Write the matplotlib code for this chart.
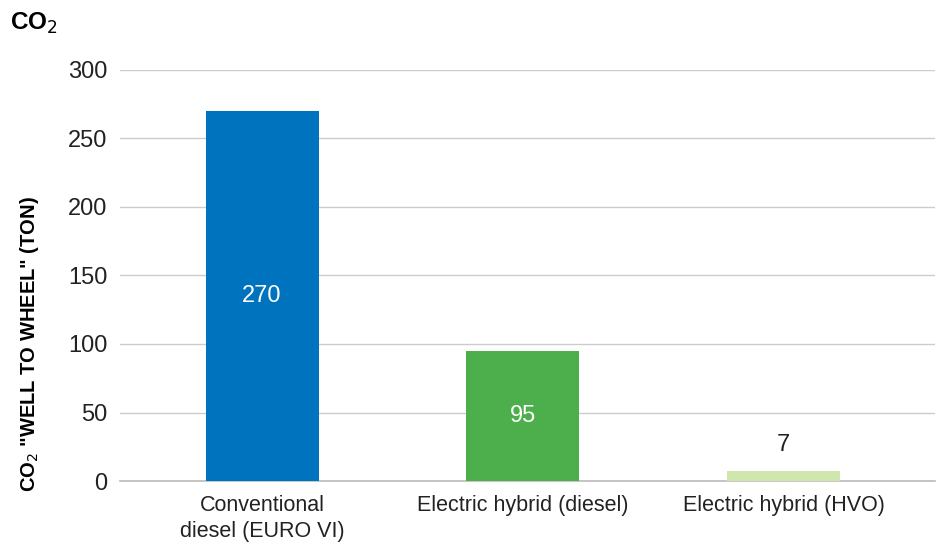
import matplotlib.pyplot as plt

plt.rcParams['font.family'] = ['Liberation Sans', 'DejaVu Sans']

categories = ['Conventional\ndiesel (EURO VI)', 'Electric hybrid (diesel)', 'Electric hybrid (HVO)']
values = [270, 95, 7]
colors = ['#0073bf', '#4caf4c', '#cfe6ad']
label_colors = ['white', 'white', '#222222']

fig = plt.figure(figsize=(9.37, 5.46), dpi=100)
ax = fig.add_axes([0.128, 0.119, 0.870, 0.753])

x = range(len(values))
bars = ax.bar(x, values, width=0.433, color=colors, zorder=3)

# value labels: inside tall bars, above short ones
for b, v, c in zip(bars, values, label_colors):
    ypos = v / 2 if v > 50 else v + 19
    ax.text(b.get_x() + b.get_width() / 2, ypos, str(v), ha='center', va='center',
            color=c, fontsize=17)

ax.set_xlim(-0.545, 2.58)
ax.set_ylim(0, 300)
ax.set_yticks([0, 50, 100, 150, 200, 250, 300])
ax.set_xticks(list(x))
ax.set_xticklabels(categories, fontsize=15.5, color='#222222', linespacing=1.3)
ax.tick_params(axis='y', labelsize=17, labelcolor='#222222', length=0, pad=9)
ax.tick_params(axis='x', length=0, pad=10)

ax.grid(axis='y', color='#cccccc', linewidth=1, zorder=0)
for s in ['top', 'right', 'left']:
    ax.spines[s].set_visible(False)
ax.spines['bottom'].set_color('#bbbbbb')
ax.spines['bottom'].set_linewidth(1.2)

ax.set_ylabel('CO$_2$ "WELL TO WHEEL" (TON)', fontsize=14.5, fontweight='bold')
ax.yaxis.set_label_coords(-0.097, 0.333)
fig.text(0.011, 0.958, 'CO$_2$', fontsize=17.5, fontweight='bold', va='center')

fig.savefig('out.png', dpi=100)
